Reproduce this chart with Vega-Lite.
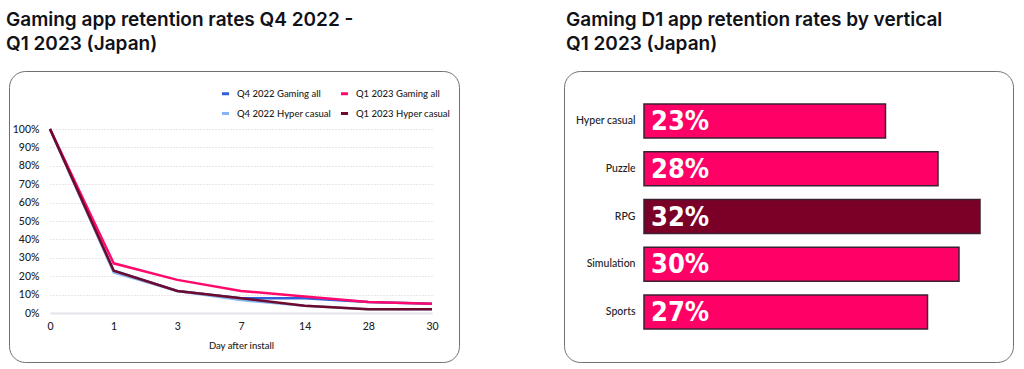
{
  "$schema": "https://vega.github.io/schema/vega-lite/v6.json",
  "padding": {"left": 5, "top": 10, "right": 5, "bottom": 5},
  "background": "white",
  "config": {
    "font": "Inter",
    "view": {"stroke": "#707070", "strokeWidth": 1, "cornerRadius": 16},
    "title": {"anchor": "start", "fontSize": 19, "fontWeight": 600, "color": "#111118", "lineHeight": 24, "offset": 17},
    "concat": {"spacing": 103}
  },
  "hconcat": [
    {
      "width": 450,
      "height": 291,
      "title": {"text": ["Gaming app retention rates Q4 2022 -", "Q1 2023 (Japan)"], "dx": -3},
      "data": {"values": [
        {"series": "Q4 2022 Gaming all", "day": 0, "retention": 1.0},
        {"series": "Q4 2022 Gaming all", "day": 1, "retention": 0.23},
        {"series": "Q4 2022 Gaming all", "day": 3, "retention": 0.12},
        {"series": "Q4 2022 Gaming all", "day": 7, "retention": 0.08},
        {"series": "Q4 2022 Gaming all", "day": 14, "retention": 0.08},
        {"series": "Q4 2022 Gaming all", "day": 28, "retention": 0.06},
        {"series": "Q4 2022 Gaming all", "day": 30, "retention": 0.05},
        {"series": "Q4 2022 Hyper casual", "day": 0, "retention": 1.0},
        {"series": "Q4 2022 Hyper casual", "day": 1, "retention": 0.22},
        {"series": "Q4 2022 Hyper casual", "day": 3, "retention": 0.12},
        {"series": "Q4 2022 Hyper casual", "day": 7, "retention": 0.07},
        {"series": "Q4 2022 Hyper casual", "day": 14, "retention": 0.04},
        {"series": "Q4 2022 Hyper casual", "day": 28, "retention": 0.02},
        {"series": "Q4 2022 Hyper casual", "day": 30, "retention": 0.02},
        {"series": "Q1 2023 Gaming all", "day": 0, "retention": 1.0},
        {"series": "Q1 2023 Gaming all", "day": 1, "retention": 0.27},
        {"series": "Q1 2023 Gaming all", "day": 3, "retention": 0.18},
        {"series": "Q1 2023 Gaming all", "day": 7, "retention": 0.12},
        {"series": "Q1 2023 Gaming all", "day": 14, "retention": 0.09},
        {"series": "Q1 2023 Gaming all", "day": 28, "retention": 0.06},
        {"series": "Q1 2023 Gaming all", "day": 30, "retention": 0.05},
        {"series": "Q1 2023 Hyper casual", "day": 0, "retention": 1.0},
        {"series": "Q1 2023 Hyper casual", "day": 1, "retention": 0.23},
        {"series": "Q1 2023 Hyper casual", "day": 3, "retention": 0.12},
        {"series": "Q1 2023 Hyper casual", "day": 7, "retention": 0.08},
        {"series": "Q1 2023 Hyper casual", "day": 14, "retention": 0.04},
        {"series": "Q1 2023 Hyper casual", "day": 28, "retention": 0.02},
        {"series": "Q1 2023 Hyper casual", "day": 30, "retention": 0.02}
      ]},
      "mark": {"type": "line", "strokeWidth": 2.5},
      "encoding": {
        "x": {
          "field": "day", "type": "ordinal",
          "scale": {"type": "point", "range": [41, 423], "padding": 0},
          "axis": {"title": "Day after install", "labelAngle": 0, "offset": -49, "ticks": false, "labelPadding": 8, "labelFont": "Lato", "labelFontSize": 10.5, "labelFontWeight": 500, "labelColor": "#222", "domainColor": "#e4e4ea", "domainWidth": 2, "titleFont": "Lato", "titleFontSize": 9.5, "titleFontWeight": 500, "titleColor": "#222", "titlePadding": 9}
        },
        "y": {
          "field": "retention", "type": "quantitative",
          "scale": {"domain": [0, 1], "range": [242, 58]},
          "axis": {"title": null, "format": ".0%", "values": [0, 0.1, 0.2, 0.3, 0.4, 0.5, 0.6, 0.7, 0.8, 0.9, 1], "offset": -33, "labelPadding": 3, "ticks": false, "domain": false, "gridColor": "#cfcfd6", "gridDash": [1, 2], "gridWidth": 1, "labelFont": "Lato", "labelFontSize": 10.5, "labelFontWeight": 500, "labelColor": "#222"}
        },
        "color": {
          "field": "series", "type": "nominal",
          "scale": {"domain": ["Q4 2022 Gaming all", "Q4 2022 Hyper casual", "Q1 2023 Gaming all", "Q1 2023 Hyper casual"], "range": ["#2f5fd8", "#86b6f2", "#ff0a6c", "#6e0a2c"]},
          "legend": {"orient": "none", "legendX": 211, "legendY": 17, "columns": 2, "title": null, "symbolType": "stroke", "symbolStrokeWidth": 3, "symbolSize": 50, "labelFont": "Lato", "labelFontSize": 9.5, "labelFontWeight": 500, "labelColor": "#222", "labelOffset": 6, "columnPadding": 2, "rowPadding": 7}
        }
      }
    },
    {
      "width": 449,
      "height": 291,
      "title": {"text": ["Gaming D1 app retention rates by vertical", "Q1 2023 (Japan)"], "dx": 2},
      "data": {"values": [
        {"vertical": "Hyper casual", "d1": 0.23},
        {"vertical": "Puzzle", "d1": 0.28},
        {"vertical": "RPG", "d1": 0.32},
        {"vertical": "Simulation", "d1": 0.30},
        {"vertical": "Sports", "d1": 0.27}
      ]},
      "encoding": {
        "y": {
          "field": "vertical", "type": "nominal", "sort": null,
          "scale": {"range": [33, 258], "paddingInner": 0.29, "paddingOuter": 0},
          "axis": {"title": null, "orient": "left", "offset": -80, "labelPadding": 9, "ticks": false, "domain": false, "labelFont": "Lato", "labelFontSize": 10.5, "labelFontWeight": 500, "labelColor": "#222"}
        }
      },
      "layer": [
        {
          "mark": {"type": "bar", "stroke": "#3a2030", "strokeWidth": 1.5},
          "encoding": {
            "x": {"field": "d1", "type": "quantitative", "scale": {"domain": [0, 0.32], "range": [80, 416], "nice": false}, "axis": null},
            "color": {"condition": {"test": "datum.vertical === 'RPG'", "value": "#7a0028"}, "value": "#ff0066"}
          }
        },
        {
          "mark": {"type": "text", "align": "left", "baseline": "middle", "dx": 7, "dy": 1, "font": "'DejaVu Sans Condensed', 'Liberation Sans Narrow', Roboto, sans-serif", "fontWeight": "bold", "fontSize": 27, "color": "white"},
          "encoding": {
            "x": {"datum": 0, "type": "quantitative"},
            "text": {"field": "d1", "type": "quantitative", "format": ".0%"}
          }
        }
      ]
    }
  ]
}
